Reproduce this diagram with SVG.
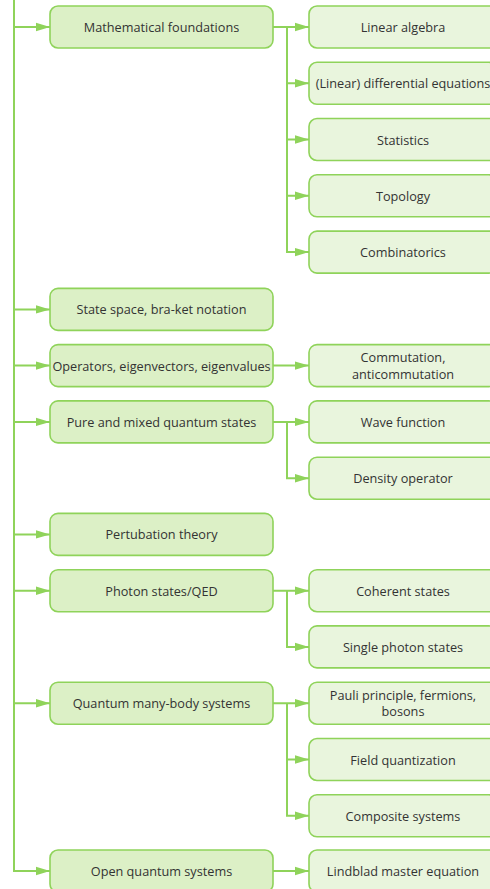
<svg xmlns="http://www.w3.org/2000/svg" width="490" height="889" viewBox="0 0 490 889">
  <style>
    .box { stroke: #8fd35a; stroke-width: 1.6; }
    .mid { fill: #dcf0c6; }
    .leaf { fill: #e9f5dd; }
    .lbl { font-family: "Open Sans", "DejaVu Sans", sans-serif; font-size: 12.7px; fill: #333333; text-anchor: middle; dominant-baseline: central; }
    .wire { fill: none; stroke: #8fd35a; stroke-width: 2; }
  </style>
  <defs>
    <marker id="arr" markerUnits="userSpaceOnUse" markerWidth="14" markerHeight="10" refX="14" refY="5" orient="auto">
      <path d="M0,0.8 L14,5 L0,9.2 Z" fill="#8fd35a"/>
    </marker>
  </defs>
  <rect width="490" height="889" fill="#ffffff"/>

  <!-- connectors -->
  <g id="connectors" class="wire">
    <!-- trunk -->
    <path d="M14,-2 V871 H50" marker-end="url(#arr)"/>
    <path d="M14,27 H50" marker-end="url(#arr)"/>
    <path d="M14,309.4 H50" marker-end="url(#arr)"/>
    <path d="M14,365.6 H50" marker-end="url(#arr)"/>
    <path d="M14,421.9 H50" marker-end="url(#arr)"/>
    <path d="M14,534.4 H50" marker-end="url(#arr)"/>
    <path d="M14,590.7 H50" marker-end="url(#arr)"/>
    <path d="M14,703.2 H50" marker-end="url(#arr)"/>
    <!-- Mathematical foundations -->
    <path d="M273,27 H309" marker-end="url(#arr)"/>
    <path d="M287,27 V83.3 H309" marker-end="url(#arr)"/>
    <path d="M287,83.3 V139.5 H309" marker-end="url(#arr)"/>
    <path d="M287,139.5 V195.8 H309" marker-end="url(#arr)"/>
    <path d="M287,195.8 V252.1 H309" marker-end="url(#arr)"/>
    <!-- Operators -->
    <path d="M273,365.6 H309" marker-end="url(#arr)"/>
    <!-- Pure and mixed states -->
    <path d="M273,421.9 H309" marker-end="url(#arr)"/>
    <path d="M287,421.9 V478.2 H309" marker-end="url(#arr)"/>
    <!-- Photon states -->
    <path d="M273,590.7 H309" marker-end="url(#arr)"/>
    <path d="M287,590.7 V646.9 H309" marker-end="url(#arr)"/>
    <!-- Many-body -->
    <path d="M273,703.2 H309" marker-end="url(#arr)"/>
    <path d="M287,703.2 V759.5 H309" marker-end="url(#arr)"/>
    <path d="M287,759.5 V815.8 H309" marker-end="url(#arr)"/>
    <!-- Open systems -->
    <path d="M273,871 H309" marker-end="url(#arr)"/>
  </g>

  <!-- middle column -->
  <g id="n-math"><rect class="box mid" x="50" y="6" width="223" height="42" rx="8"/><text class="lbl" x="161.5" y="27">Mathematical foundations</text></g>
  <g id="n-state"><rect class="box mid" x="50" y="288.4" width="223" height="42" rx="8"/><text class="lbl" x="161.5" y="309.4">State space, bra-ket notation</text></g>
  <g id="n-oper"><rect class="box mid" x="50" y="344.6" width="223" height="42" rx="8"/><text class="lbl" x="161.5" y="365.6">Operators, eigenvectors, eigenvalues</text></g>
  <g id="n-pure"><rect class="box mid" x="50" y="400.9" width="223" height="42" rx="8"/><text class="lbl" x="161.5" y="421.9">Pure and mixed quantum states</text></g>
  <g id="n-pert"><rect class="box mid" x="50" y="513.4" width="223" height="42" rx="8"/><text class="lbl" x="161.5" y="534.4">Pertubation theory</text></g>
  <g id="n-photon"><rect class="box mid" x="50" y="569.7" width="223" height="42" rx="8"/><text class="lbl" x="161.5" y="590.7">Photon states/QED</text></g>
  <g id="n-many"><rect class="box mid" x="50" y="682.2" width="223" height="42" rx="8"/><text class="lbl" x="161.5" y="703.2">Quantum many-body systems</text></g>
  <g id="n-open"><rect class="box mid" x="50" y="850" width="223" height="42" rx="8"/><text class="lbl" x="161.5" y="871">Open quantum systems</text></g>

  <!-- right column -->
  <g id="n-linalg"><rect class="box leaf" x="309" y="6" width="188" height="42" rx="8"/><text class="lbl" x="403" y="27">Linear algebra</text></g>
  <g id="n-diffeq"><rect class="box leaf" x="309" y="62.3" width="188" height="42" rx="8"/><text class="lbl" x="403" y="83.3">(Linear) differential equations</text></g>
  <g id="n-stats"><rect class="box leaf" x="309" y="118.5" width="188" height="42" rx="8"/><text class="lbl" x="403" y="139.5">Statistics</text></g>
  <g id="n-topo"><rect class="box leaf" x="309" y="174.8" width="188" height="42" rx="8"/><text class="lbl" x="403" y="195.8">Topology</text></g>
  <g id="n-comb"><rect class="box leaf" x="309" y="231.1" width="188" height="42" rx="8"/><text class="lbl" x="403" y="252.1">Combinatorics</text></g>
  <g id="n-comm"><rect class="box leaf" x="309" y="344.6" width="188" height="42" rx="8"/><text class="lbl" x="403" y="357.4">Commutation,<tspan x="403" dy="16.4">anticommutation</tspan></text></g>
  <g id="n-wave"><rect class="box leaf" x="309" y="400.9" width="188" height="42" rx="8"/><text class="lbl" x="403" y="421.9">Wave function</text></g>
  <g id="n-density"><rect class="box leaf" x="309" y="457.2" width="188" height="42" rx="8"/><text class="lbl" x="403" y="478.2">Density operator</text></g>
  <g id="n-coherent"><rect class="box leaf" x="309" y="569.7" width="188" height="42" rx="8"/><text class="lbl" x="403" y="590.7">Coherent states</text></g>
  <g id="n-single"><rect class="box leaf" x="309" y="625.9" width="188" height="42" rx="8"/><text class="lbl" x="403" y="646.9">Single photon states</text></g>
  <g id="n-pauli"><rect class="box leaf" x="309" y="682.2" width="188" height="42" rx="8"/><text class="lbl" x="403" y="695">Pauli principle, fermions,<tspan x="403" dy="16.4">bosons</tspan></text></g>
  <g id="n-field"><rect class="box leaf" x="309" y="738.5" width="188" height="42" rx="8"/><text class="lbl" x="403" y="759.5">Field quantization</text></g>
  <g id="n-composite"><rect class="box leaf" x="309" y="794.8" width="188" height="42" rx="8"/><text class="lbl" x="403" y="815.8">Composite systems</text></g>
  <g id="n-lindblad"><rect class="box leaf" x="309" y="850" width="188" height="42" rx="8"/><text class="lbl" x="403" y="871">Lindblad master equation</text></g>
</svg>
